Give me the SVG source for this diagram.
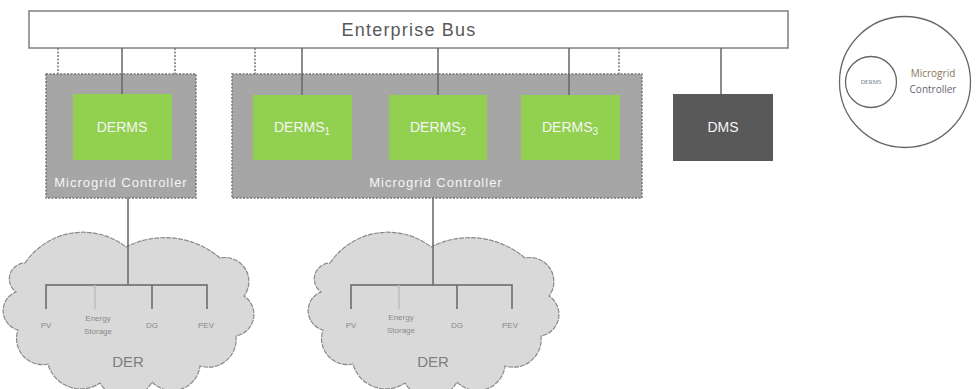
<svg xmlns="http://www.w3.org/2000/svg" width="976" height="389" viewBox="0 0 976 389">
<style>
.ln{stroke:#666;stroke-width:1.5;fill:none}
.dl{stroke:#777;stroke-width:1.5;stroke-dasharray:2 1.5;fill:none}
.mc{fill:#a6a6a6;stroke:#777;stroke-width:1.5;stroke-dasharray:2 1.5}
.g{fill:#92d050}
.wt{font-family:"Liberation Sans",Arial,sans-serif;fill:#f5f5f5;text-anchor:middle}
.cl{fill:#d9d9d9;stroke:#8a8a8a;stroke-width:1.2;stroke-dasharray:5 1}
.sm{font-family:"Liberation Sans",Arial,sans-serif;font-size:8px;text-anchor:middle;fill:#8a8a8a}
.der{font-family:"Liberation Sans",Arial,sans-serif;font-size:15px;text-anchor:middle;fill:#7f7f7f}
</style>
<defs>
<path id="cloud" d="M25,263 A70,70 0 0 1 126,247 A85,85 0 0 1 220,258 A24,24 0 0 1 244,296 A22,22 0 0 1 236,336 A28,28 0 0 1 200,366 A28,28 0 0 1 152,382 A30,30 0 0 1 100,383 A34,34 0 0 1 48,364 A26,26 0 0 1 18,330 A20,20 0 0 1 16,292 A16,16 0 0 1 25,263 Z"/>
</defs>
<rect width="976" height="389" fill="#fff"/>

<g id="connectors">
<line class="dl" x1="58" y1="48" x2="58" y2="74"/>
<line class="dl" x1="175" y1="48" x2="175" y2="74"/>
<line class="dl" x1="255" y1="48" x2="255" y2="74"/>
<line class="dl" x1="619" y1="48" x2="619" y2="74"/>
</g>

<g id="bus">
<rect x="29" y="11" width="759" height="37" fill="#fff" stroke="#7f7f7f" stroke-width="1.5"/>
<text x="409" y="36" font-family="Liberation Sans,Arial,sans-serif" font-size="18" letter-spacing="1.2" fill="#595959" text-anchor="middle">Enterprise Bus</text>
</g>

<g id="mc1">
<rect class="mc" x="46" y="74" width="150" height="124"/>
<text class="wt" x="121" y="187" font-size="13" letter-spacing="1">Microgrid Controller</text>
</g>
<g id="mc2">
<rect class="mc" x="232" y="74" width="410" height="124"/>
<text class="wt" x="436" y="187" font-size="13" letter-spacing="1">Microgrid Controller</text>
</g>

<g id="derms">
<rect class="g" x="73" y="94" width="99" height="66"/>
<text class="wt" x="122" y="132" font-size="14">DERMS</text>
</g>
<g id="derms1">
<rect class="g" x="253" y="95" width="99" height="65"/>
<text class="wt" x="302" y="132" font-size="14">DERMS<tspan font-size="10" dy="3">1</tspan></text>
</g>
<g id="derms2">
<rect class="g" x="389" y="95" width="98" height="65"/>
<text class="wt" x="438" y="132" font-size="14">DERMS<tspan font-size="10" dy="3">2</tspan></text>
</g>
<g id="derms3">
<rect class="g" x="521" y="95" width="99" height="65"/>
<text class="wt" x="570" y="132" font-size="14">DERMS<tspan font-size="10" dy="3">3</tspan></text>
</g>
<g id="dms">
<rect x="673" y="94" width="100" height="67" fill="#595959"/>
<text class="wt" x="723" y="132" font-size="14">DMS</text>
</g>

<g id="der1">
<use href="#cloud" class="cl"/>
<path class="ln" d="M46,309 V285 H207 V309 M152,285 V309"/>
<line x1="95" y1="285" x2="95" y2="309" stroke="#bdbdbd" stroke-width="1.5"/>
<text class="sm" x="46" y="328">PV</text>
<text class="sm" x="98" y="321">Energy</text>
<text class="sm" x="98" y="334">Storage</text>
<text class="sm" x="152" y="328">DG</text>
<text class="sm" x="206" y="328">PEV</text>
<text class="der" x="128" y="367">DER</text>
</g>

<g id="der2" transform="translate(305,0)">
<use href="#cloud" class="cl"/>
<path class="ln" d="M46,309 V285 H207 V309 M152,285 V309"/>
<line x1="94" y1="285" x2="94" y2="309" stroke="#bdbdbd" stroke-width="1.5"/>
<text class="sm" x="46" y="328">PV</text>
<text class="sm" x="96" y="320">Energy</text>
<text class="sm" x="96" y="333">Storage</text>
<text class="sm" x="152" y="328">DG</text>
<text class="sm" x="205" y="328">PEV</text>
<text class="der" x="128" y="367">DER</text>
</g>

<g id="connectors-solid">
<line class="ln" x1="122" y1="48" x2="122" y2="94"/>
<line class="ln" x1="302" y1="48" x2="302" y2="95"/>
<line class="ln" x1="438" y1="48" x2="438" y2="95"/>
<line class="ln" x1="569" y1="48" x2="569" y2="95"/>
<line class="ln" x1="721" y1="48" x2="721" y2="94"/>
<line class="ln" x1="128" y1="198" x2="128" y2="285"/>
<line class="ln" x1="433" y1="198" x2="433" y2="285"/>
</g>

<g id="legend">
<circle cx="905" cy="82" r="65.5" fill="#fff" stroke="#666" stroke-width="1.3"/>
<circle cx="871" cy="82" r="25.5" fill="#fff" stroke="#666" stroke-width="1.3"/>
<text x="871" y="84" font-family="Liberation Serif,serif" font-size="6" fill="#6b7a8f" text-anchor="middle">DERMS</text>
<text x="933" y="77" font-family="Open Sans,sans-serif" font-size="10" fill="#8a7560" text-anchor="middle">Microgrid</text>
<text x="933" y="93" font-family="Open Sans,sans-serif" font-size="10" fill="#5f6670" text-anchor="middle">Controller</text>
</g>
</svg>
